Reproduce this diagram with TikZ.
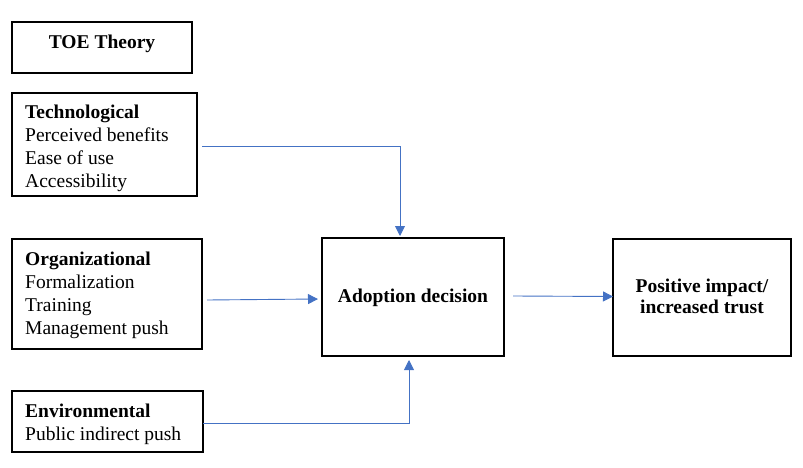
\documentclass[tikz,border=0pt]{standalone}
\usepackage{fontspec}
\setmainfont{Liberation Serif}
\usetikzlibrary{calc,arrows.meta}
\definecolor{arrowblue}{HTML}{4472C4}
\tikzset{
  box/.style={draw=black, line width=1.5pt, fill=none, inner sep=0pt, outer sep=0pt, anchor=north west},
  txt/.style={font=\fontsize{19.5}{23}\selectfont, inner sep=0pt, align=left, anchor=north west},
  ctxt/.style={font=\fontsize{19.5}{21}\selectfont\bfseries, inner sep=0pt, align=center},
  conn/.style={draw=arrowblue, line width=0.9pt, -{Triangle[length=10pt,width=10pt]}}
}
\begin{document}
\begin{tikzpicture}[x=1pt,y=-1pt]
\useasboundingbox (0,0) rectangle (803,468);
% boxes
\node[box, minimum width=180pt, minimum height=51pt] (toe) at (12,22) {};
\node[box, minimum width=185pt, minimum height=103pt] (tech) at (12,93) {};
\node[box, minimum width=190pt, minimum height=110pt] (org) at (12,239) {};
\node[box, minimum width=191pt, minimum height=61pt] (env) at (12,391) {};
\node[box, minimum width=182pt, minimum height=118pt] (adopt) at (322,238) {};
\node[box, minimum width=178pt, minimum height=117pt] (impact) at (613,239) {};
% texts
\node[font=\fontsize{19.5}{23}\selectfont\bfseries, inner sep=0pt, anchor=base] (toetxt) at (102,49) {TOE Theory};
\node[txt] (techtxt) at (25,105.2) {\textbf{Technological}\\Perceived benefits\\Ease of use\\Accessibility};
\node[txt] (orgtxt) at (25,251.7) {\textbf{Organizational}\\Formalization\\Training\\Management push};
\node[txt] (envtxt) at (25,403.7) {\textbf{Environmental}\\Public indirect push};
\node[ctxt] (adopttxt) at ($(adopt.center)+(0,1)$) {Adoption decision};
\node[ctxt] (impacttxt) at ($(impact.center)+(0,-1.5)$) {Positive impact/\\increased trust};
% connectors
\coordinate (tstart) at ($(tech.east)+(5,1.5)$);
\coordinate (tend) at ($(adopt.north west)+(78,-2)$);
\draw[conn] (tstart) -| (tend);
\draw[conn] ($(org.east)+(5,6)$) -- ($(adopt.west)+(-4,2)$);
\coordinate (estart) at ($(env.east)+(0,1.5)$);
\coordinate (eend) at ($(adopt.south west)+(87,4)$);
\draw[conn] (estart) -| (eend);
\draw[conn] ($(adopt.east)+(9,-1)$) -- ($(impact.west)+(0,-1)$);
\end{tikzpicture}
\end{document}
